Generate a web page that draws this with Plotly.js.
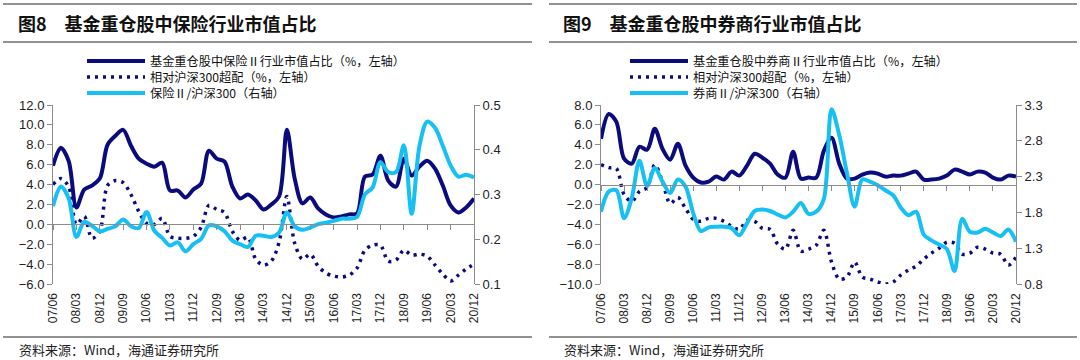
<!DOCTYPE html>
<html><head><meta charset="utf-8">
<script src="https://cdn.plot.ly/plotly-3.0.1.min.js"></script>
<style>html,body{margin:0;padding:0;background:#fff}#chart{width:1080px;height:360px}</style>
</head><body><div id="chart"></div>
<script>
// Quarter-end categories 2007Q2 .. 2020Q4
const quarters = ['07/06','07/09','07/12','08/03','08/06','08/09','08/12','09/03','09/06','09/09','09/12','10/03','10/06','10/09','10/12','11/03','11/06','11/09','11/12','12/03','12/06','12/09','12/12','13/03','13/06','13/09','13/12','14/03','14/06','14/09','14/12','15/03','15/06','15/09','15/12','16/03','16/06','16/09','16/12','17/03','17/06','17/09','17/12','18/03','18/06','18/09','18/12','19/03','19/06','19/09','19/12','20/03','20/06','20/09','20/12'];
const tickLabels = ['07/06','08/03','08/12','09/09','10/06','11/03','11/12','12/09','13/06','14/03','14/12','15/09','16/06','17/03','17/12','18/09','19/06','20/03','20/12'];

// Fig 8: insurance
const insShare = [5.9,7.7,6.4,1.7,3.5,3.9,4.6,8.0,8.9,9.5,7.9,6.6,6.1,5.8,6.2,3.4,3.4,2.7,3.5,4.1,7.4,6.6,6.3,3.8,2.6,3.0,2.4,1.5,2.0,2.8,9.5,4.6,2.1,2.7,1.6,1.0,0.7,0.8,1.0,1.1,4.8,5.0,6.9,4.4,3.8,6.6,4.9,5.8,6.4,5.6,3.9,1.9,1.2,1.7,2.6];
const insOver = [4.0,4.6,3.8,0.0,0.8,-1.4,-0.7,3.9,4.4,4.2,3.0,1.3,0.1,0.0,0.6,-1.2,-1.4,-1.4,-1.2,-0.3,1.9,1.5,1.2,-0.7,-1.6,-1.3,-3.5,-4.1,-3.7,-1.8,2.8,-1.9,-3.5,-3.0,-4.2,-4.9,-5.2,-5.3,-5.1,-4.4,-2.6,-2.1,-2.1,-3.7,-3.6,-2.6,-3.1,-3.0,-3.2,-4.1,-5.0,-5.7,-5.1,-4.5,-4.0];
const insRatio = [0.274,0.318,0.292,0.205,0.239,0.230,0.218,0.223,0.229,0.244,0.229,0.225,0.261,0.219,0.203,0.186,0.193,0.173,0.189,0.201,0.231,0.229,0.218,0.197,0.189,0.183,0.208,0.208,0.205,0.215,0.260,0.229,0.221,0.226,0.234,0.237,0.241,0.246,0.246,0.250,0.300,0.316,0.372,0.350,0.350,0.410,0.257,0.408,0.463,0.449,0.409,0.365,0.340,0.344,0.338];

// Fig 9: securities
const secShare = [4.6,7.1,6.3,2.6,2.1,3.8,3.5,5.6,3.6,2.5,4.1,1.9,0.7,0.2,0.3,0.8,0.5,1.3,0.9,1.9,3.1,2.7,2.1,1.0,0.7,3.3,0.6,0.7,0.7,3.4,4.7,2.1,0.6,0.6,1.0,1.2,1.1,0.8,0.9,0.9,1.1,1.3,0.5,0.5,0.6,0.9,1.5,1.3,1.0,1.3,1.2,0.7,0.5,0.9,0.8];
const secOver = [2.0,1.7,1.6,-1.0,-1.7,-0.7,-0.3,2.0,0.3,-1.9,-1.3,-2.4,-3.5,-3.7,-3.4,-3.4,-3.7,-4.2,-4.5,-3.6,-3.7,-4.4,-4.5,-6.0,-6.5,-4.6,-6.7,-6.5,-6.1,-4.6,-7.8,-9.5,-9.3,-7.8,-9.3,-9.5,-9.8,-10.0,-9.8,-9.1,-8.6,-8.2,-7.5,-6.9,-6.4,-5.8,-5.9,-7.0,-6.9,-6.3,-6.5,-6.9,-7.0,-8.1,-7.3];
const secRatio = [1.81,2.09,2.11,1.72,2.00,2.52,2.17,2.42,2.23,2.07,2.26,2.16,1.79,1.54,1.59,1.60,1.60,1.58,1.48,1.65,1.82,1.84,1.82,1.77,1.73,1.81,1.93,1.78,1.81,1.99,3.24,2.88,2.35,1.88,2.26,2.23,2.18,2.11,2.04,1.87,1.76,1.81,1.49,1.41,1.35,1.29,0.98,1.71,1.53,1.52,1.57,1.52,1.47,1.56,1.39];

const names8 = ['基金重仓股中保险Ⅱ行业市值占比（%，左轴）','相对沪深300超配（%，左轴）','保险Ⅱ/沪深300（右轴）'];
const names9 = ['基金重仓股中券商Ⅱ行业市值占比（%，左轴）','相对沪深300超配（%，左轴）','券商Ⅱ/沪深300（右轴）'];
const titles = ['图8\u3000基金重仓股中保险行业市值占比','图9\u3000基金重仓股中券商行业市值占比'];
const source = '资料来源：Wind，海通证券研究所';

const NAVY = '#0b0b7e', CYAN = '#16c0f2', AX = '#8c8c8c';
const CJK = '"Noto Sans CJK SC", sans-serif';
const NUM = '"Liberation Sans", Arial, sans-serif';
const DOT = '3px,5px';

function mk(x, y, xa, ya, name, color, dash, leg) {
  return {type:'scatter', mode:'lines', x:x, y:y, xaxis:xa, yaxis:ya, name:name,
    line:{color:color, width: dash ? 3.5 : 4, dash: dash || 'solid', shape:'spline', smoothing:0.9},
    legend: leg, hoverinfo:'skip'};
}
const data = [
  mk(quarters, insShare, 'x', 'y', names8[0], NAVY, null, 'legend'),
  mk(quarters, insOver, 'x', 'y', names8[1], NAVY, DOT, 'legend2'),
  mk(quarters, insRatio, 'x', 'y2', names8[2], CYAN, null, 'legend3'),
  mk(quarters, secShare, 'x2', 'y3', names9[0], NAVY, null, 'legend4'),
  mk(quarters, secOver, 'x2', 'y3', names9[1], NAVY, DOT, 'legend5'),
  mk(quarters, secRatio, 'x2', 'y4', names9[2], CYAN, null, 'legend6')
];

const L = 53, R = 1016, T = 105, B = 284, W = R - L, H = B - T;
const px = v => (v - L) / W, py = v => (B - v) / H;

function xax(dom, pos, standoff) {
  return {domain:dom, anchor:'free', position:pos, type:'category', range:[0, quarters.length - 1],
    tickmode:'array', tickvals:tickLabels, ticktext:tickLabels, tickangle:-90,
    ticks:'outside', ticklen:5, tickcolor:AX, showline:true, linecolor:AX, linewidth:1,
    showgrid:false, zeroline:false, ticklabelstandoff:standoff,
    tickfont:{family:NUM, size:12, color:'#222'}};
}
function yax(range, dtick, anchor, extra) {
  return Object.assign({range:range, dtick:dtick, tick0:range[0], tickformat:'.1f', anchor:anchor,
    ticks:'outside', ticklen:5, tickcolor:AX, showline:true, linecolor:AX, linewidth:1,
    showgrid:false, zeroline:false, domain:[0,1],
    tickfont:{family:NUM, size:13, color:'#222'}}, extra || {});
}
function leg(xLeft, yCenter) {
  return {x:px(xLeft), y:py(yCenter), xanchor:'left', yanchor:'middle', bgcolor:'rgba(0,0,0,0)',
    font:{family:CJK, size:12.2, color:'#111'}, itemwidth:58, borderwidth:0};
}

const rightStart = px(601);
const layout = {
  width:1080, height:360, paper_bgcolor:'#fff', plot_bgcolor:'rgba(0,0,0,0)',
  margin:{l:L, r:1080 - R, t:T, b:360 - B}, showlegend:true,
  xaxis: xax([0, px(474)], 6/18, 58),
  xaxis2: xax([rightStart, 1], 10/18, 98),
  yaxis: yax([-6, 12], 2, 'x'),
  yaxis2: yax([0.1, 0.5], 0.1, 'x', {overlaying:'y', side:'right'}),
  yaxis3: yax([-10, 8], 2, 'x2'),
  yaxis4: yax([0.8, 3.3], 0.5, 'x2', {overlaying:'y3', side:'right'}),
  legend: leg(82, 61), legend2: leg(82, 77), legend3: leg(82, 93),
  legend4: leg(625, 61), legend5: leg(625, 77), legend6: leg(625, 93),
  shapes: [
    [3, 532, 4], [3, 532, 42], [3, 532, 337],
    [549, 1077, 4], [549, 1077, 42], [549, 1077, 337]
  ].map(s => ({type:'line', xref:'paper', yref:'paper', x0:px(s[0]), x1:px(s[1]), y0:py(s[2]), y1:py(s[2]),
    line:{color:'#6e6e6e', width:1.5}})),
  annotations: [
    {text:titles[0], x:px(16), y:py(23)},
    {text:titles[1], x:px(561), y:py(23)}
  ].map(a => Object.assign(a, {xref:'paper', yref:'paper', xanchor:'left', yanchor:'middle', showarrow:false,
    font:{family:CJK, size:18, color:'#111', weight:'bold'}})).concat(
  [{x:px(17)}, {x:px(562)}].map(a => Object.assign(a, {text:source, y:py(349), xref:'paper', yref:'paper',
    xanchor:'left', yanchor:'middle', showarrow:false, font:{family:CJK, size:13, color:'#222'}})))
};

Plotly.newPlot('chart', data, layout, {staticPlot:true, displayModeBar:false});
</script></body></html>
